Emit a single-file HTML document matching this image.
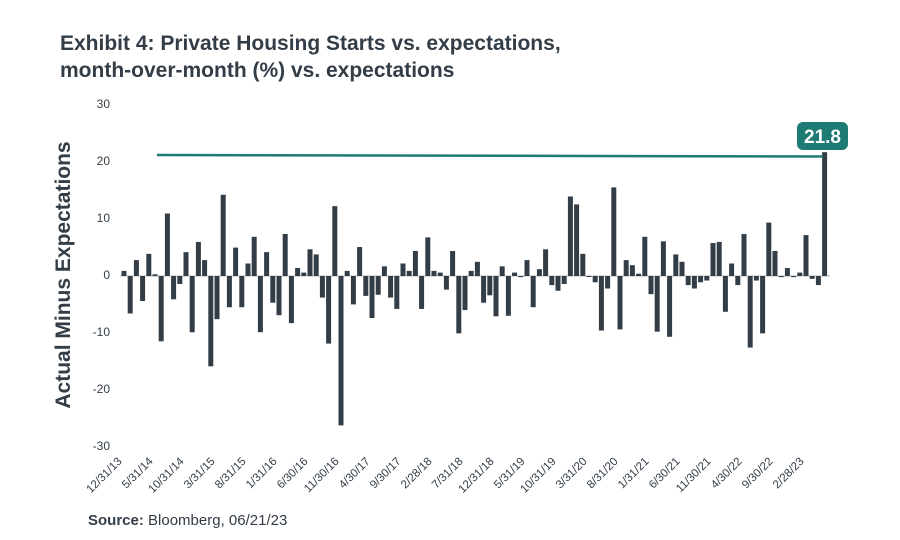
<!DOCTYPE html>
<html><head><meta charset="utf-8"><style>
body{margin:0;background:#fff;}
svg{display:block;font-family:"Liberation Sans",sans-serif;}
</style></head><body>
<svg width="900" height="540" xmlns="http://www.w3.org/2000/svg" id="s">
<text x="60" y="50" font-size="21" font-weight="bold" fill="#333d47">Exhibit 4: Private Housing Starts vs. expectations,</text>
<text x="60" y="77" font-size="21" font-weight="bold" fill="#333d47">month-over-month (%) vs. expectations</text>
<g font-size="12" fill="#333d47" text-anchor="end">
<text x="110" y="108">30</text><text x="110" y="165">20</text><text x="110" y="222">10</text>
<text x="110" y="279">0</text><text x="110" y="336">-10</text><text x="110" y="393">-20</text><text x="110" y="450">-30</text>
</g>
<text transform="translate(70,275) rotate(-90)" text-anchor="middle" font-size="21" font-weight="bold" fill="#333d47">Actual Minus Expectations</text>
<line x1="120" y1="276" x2="830" y2="276" stroke="#b0b4b8" stroke-width="1"/>
<g id="bars" fill="#333d47"></g>
<line x1="157" y1="155" x2="823" y2="156.5" stroke="#1e7b73" stroke-width="2.5"/>
<rect x="797" y="122" width="51" height="28" rx="6" fill="#1e7b73"/>
<text x="822.5" y="143" text-anchor="middle" font-size="19" font-weight="bold" fill="#fff">21.8</text>
<g id="xl" font-size="11.5" fill="#333d47" text-anchor="end"></g>
<text x="88" y="525" font-size="15" fill="#333d47"><tspan font-weight="bold">Source:</tspan> Bloomberg, 06/21/23</text>
</svg>
<script>
var v=[0.9,-6.6,2.8,-4.4,3.9,0.3,-11.5,11,-4.1,-1.4,4.2,-9.9,6,2.8,-15.9,-7.6,14.3,-5.5,5,-5.5,2.2,6.9,-9.9,4.2,-4.7,-6.9,7.4,-8.3,1.4,0.6,4.7,3.8,-3.8,-11.9,12.3,-26.3,
0.9,-5,5.1,-3.5,-7.4,-3.3,1.7,-3.8,-5.8,2.2,0.9,4.4,-5.8,6.8,0.9,0.6,-2.4,4.4,-10.1,-6,0.9,2.5,-4.7,-3.4,-7.1,1.7,-7,0.6,-0.2,2.8,-5.5,1.2,4.7,-1.6,-2.6,-1.4,14,12.6,3.9,
-0.1,-1.1,-9.6,-2.2,15.6,-9.4,2.8,1.9,0.4,6.9,-3.2,-9.8,6.1,-10.7,3.8,2.5,-1.6,-2.2,-1.1,-0.8,5.8,6,-6.3,2.2,-1.6,7.4,-12.6,-0.8,-10.1,9.4,4.4,-0.2,1.4,-0.2,0.6,7.2,-0.5,-1.6,21.8];
var ns="http://www.w3.org/2000/svg",g=document.getElementById('bars'),k=5.68;
v.forEach(function(d,i){var r=document.createElementNS(ns,'rect');var x=121.5+i*6.2;
var h=Math.max(Math.abs(d)*k,1);r.setAttribute('x',x);r.setAttribute('width',5);
r.setAttribute('y',d>=0?276-h:276);r.setAttribute('height',h);g.appendChild(r);});
var L=["12/31/13","5/31/14","10/31/14","3/31/15","8/31/15","1/31/16","6/30/16","11/30/16","4/30/17","9/30/17","2/28/18","7/31/18","12/31/18","5/31/19","10/31/19","3/31/20","8/31/20","1/31/21","6/30/21","11/30/21","4/30/22","9/30/22","2/28/23"];
var xg=document.getElementById('xl');
L.forEach(function(t,j){var x=121.5+j*5*6.2+1;var e=document.createElementNS(ns,'text');
e.setAttribute('transform','translate('+x+',462) rotate(-45)');e.textContent=t;xg.appendChild(e);});
</script>
</body></html>
